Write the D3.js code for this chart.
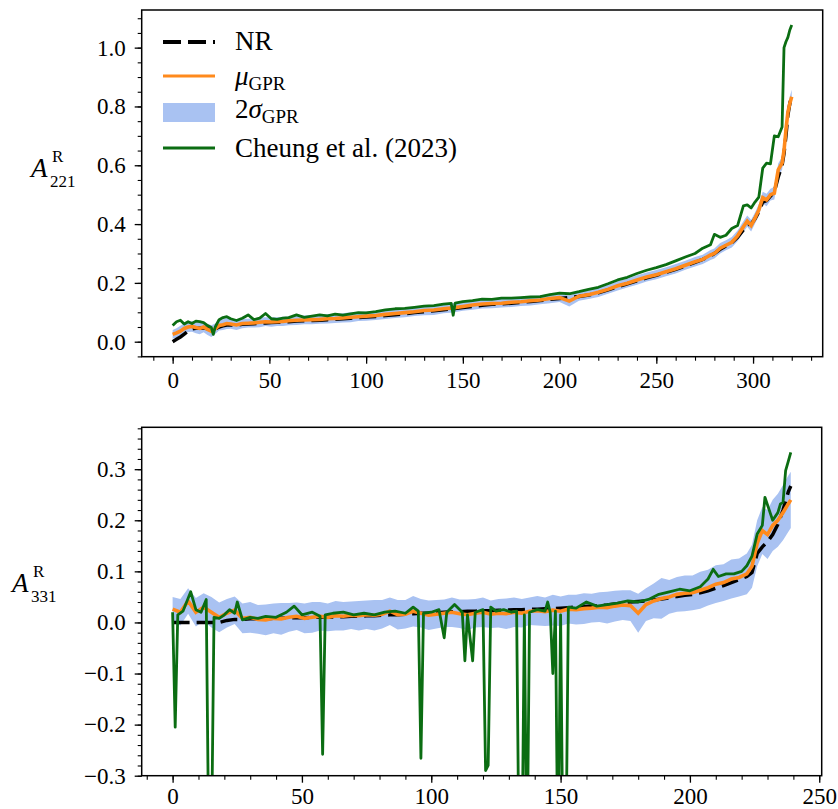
<!DOCTYPE html>
<html>
<head>
<meta charset="utf-8">
<script src="https://cdnjs.cloudflare.com/ajax/libs/d3/7.8.5/d3.min.js"></script>
<style>
body { margin: 0; background: #fff; }
svg { display: block; font-family: "Liberation Serif", "DejaVu Serif", serif; }
</style>
</head>
<body>
<script>
//data

//top panel (A_221): x values shared by NR, mu and 2sigma
var topX = [0,2,4,6,8,10,12,14,16,18,20,22,24,26,28,30,
  33,36,39,42,45,48,51,54,57,60,
  64,68,72,76,80,84,88,92,96,100,
  105,110,115,120,125,130,135,140,145,150,155,160,165,170,175,180,185,190,195,200,205,210,215,220,225,230,235,240,245,250,255,260,265,270,
  274,278,
  280,283,286,289,292,295,
  297,299,301,303,305,307,309,311,313,315,
  316,317,318,319,320];
var topNR = [0.000,0.008,0.016,0.026,0.036,0.044,0.046,0.046,0.047,0.044,0.040,0.043,0.050,0.054,0.057,0.057,
  0.057,0.059,0.060,0.061,0.063,0.064,0.065,0.066,0.067,0.068,
  0.070,0.071,0.072,0.073,0.075,0.076,0.078,0.080,0.082,0.084,
  0.086,0.089,0.092,0.095,0.099,0.102,0.105,0.109,0.112,0.116,0.120,0.124,0.127,0.129,0.131,0.134,0.137,0.140,0.144,0.147,0.150,0.154,0.159,0.166,0.176,0.187,0.197,0.207,0.217,0.226,0.236,0.246,0.258,0.270,
  0.280,0.292,
  0.300,0.314,0.326,0.337,0.355,0.380,
  0.398,0.400,0.418,0.442,0.475,0.480,0.495,0.510,0.560,0.600,
  0.640,0.700,0.770,0.810,0.840];
var topMu = [0.025,0.030,0.036,0.045,0.050,0.052,0.048,0.045,0.050,0.042,0.036,0.044,0.055,0.058,0.062,0.060,
  0.057,0.062,0.063,0.064,0.066,0.068,0.067,0.068,0.069,0.071,
  0.073,0.074,0.075,0.076,0.078,0.079,0.081,0.083,0.085,0.087,
  0.089,0.093,0.096,0.099,0.102,0.106,0.108,0.112,0.115,0.120,0.125,0.128,0.130,0.131,0.134,0.136,0.139,0.142,0.147,0.150,0.138,0.155,0.160,0.168,0.178,0.190,0.199,0.210,0.220,0.228,0.238,0.248,0.260,0.272,
  0.280,0.295,
  0.300,0.318,0.328,0.338,0.360,0.391,
  0.410,0.395,0.420,0.448,0.490,0.482,0.500,0.505,0.584,0.607,
  0.650,0.720,0.780,0.810,0.833];
var topSig = [0.015,0.016,0.018,0.018,0.017,0.018,0.019,0.020,0.018,0.019,0.020,0.018,0.017,0.018,0.019,0.016,
  0.017,0.016,0.015,0.016,0.017,0.015,0.016,0.015,0.016,0.015,
  0.016,0.015,0.016,0.015,0.016,0.015,0.016,0.017,0.015,0.016,
  0.015,0.016,0.015,0.016,0.015,0.016,0.017,0.015,0.016,0.015,0.016,0.015,0.016,0.015,0.016,0.015,0.016,0.015,0.016,0.015,0.018,0.016,0.015,0.016,0.015,0.016,0.015,0.016,0.015,0.016,0.015,0.016,0.015,0.016,
  0.016,0.017,
  0.017,0.018,0.017,0.018,0.018,0.019,
  0.019,0.020,0.019,0.020,0.020,0.021,0.020,0.021,0.022,0.022,
  0.022,0.023,0.023,0.024,0.024];
//Cheung et al. (2023), top panel
var cheungTopX = [0,2,4,6,8,10,12,14,16,18,20,21,22,24,26,28,30,33,36,39,42,45,48,51,54,57,60,64,68,72,76,80,84,88,92,96,100,
  105,110,115,120,125,130,135,140,144,145,146,150,155,160,165,170,175,180,185,190,195,200,205,210,215,220,225,230,235,240,245,250,255,260,265,270,
  274,278,280,283,286,289,292,295,297,299,301,303,305,307,309,311,313,315,316,317,318,319,320];
var cheungTopY = [0.055,0.068,0.073,0.060,0.068,0.062,0.070,0.068,0.065,0.055,0.048,0.025,0.050,0.075,0.082,0.085,0.078,0.072,0.080,0.091,0.075,0.080,0.096,0.078,0.076,0.080,0.082,0.091,0.083,0.087,0.091,0.088,0.094,0.090,0.095,0.099,0.098,
  0.102,0.108,0.112,0.113,0.117,0.121,0.123,0.128,0.130,0.090,0.131,0.136,0.140,0.145,0.144,0.148,0.148,0.150,0.152,0.153,0.160,0.165,0.163,0.170,0.178,0.185,0.197,0.210,0.219,0.232,0.243,0.252,0.262,0.275,0.288,0.300,
  0.318,0.330,0.365,0.355,0.362,0.385,0.395,0.462,0.465,0.455,0.475,0.492,0.590,0.607,0.605,0.700,0.697,0.730,1.000,1.020,1.035,1.060,1.077];

//bottom panel (A_331)
var botX = [0,3,6,9,12,15,18,
  21,24,27,30,33,36,39,42,45,48,51,54,57,60,
  63,66,69,72,75,78,81,84,87,90,93,96,99,
  102,105,108,111,114,117,120,123,126,129,132,135,138,141,144,147,150,
  153,156,159,162,165,168,171,174,177,180,183,186,189,192,195,198,201,204,207,210,213,216,219,222,
  224,226,228,230,232,234,236,238,239];
var botNR = [0,0,0,0,0,0,0,
  0.004,0.006,0.006,0.007,0.007,0.007,0.008,0.008,0.009,0.009,0.009,0.010,0.010,0.010,
  0.011,0.011,0.012,0.012,0.013,0.013,0.014,0.015,0.015,0.016,0.017,0.018,0.018,
  0.019,0.020,0.021,0.021,0.022,0.022,0.023,0.023,0.024,0.024,0.025,0.025,0.026,0.026,0.027,0.027,0.028,
  0.029,0.030,0.031,0.032,0.033,0.034,0.036,0.038,0.040,0.041,0.042,0.044,0.046,0.048,0.051,0.053,0.055,0.058,0.062,0.067,0.072,0.078,0.084,0.090,
  0.098,0.135,0.148,0.158,0.172,0.192,0.220,0.255,0.267];
var botMu = [0.026,0.020,0.042,0.020,0.030,0.020,0.010,
  0.018,0.024,0.008,0.010,0.006,0.005,0.008,0.007,0.010,0.012,0.008,0.010,0.012,0.010,
  0.013,0.012,0.014,0.013,0.015,0.014,0.016,0.022,0.015,0.016,0.022,0.018,0.014,
  0.016,0.018,0.020,0.017,0.015,0.018,0.020,0.016,0.018,0.017,0.020,0.018,0.022,0.023,0.021,0.024,0.022,
  0.026,0.025,0.027,0.028,0.030,0.029,0.032,0.034,0.033,0.018,0.035,0.042,0.047,0.050,0.055,0.057,0.058,0.063,0.068,0.075,0.078,0.085,0.088,0.095,
  0.110,0.155,0.180,0.172,0.190,0.200,0.215,0.232,0.240];
var botSig = [0.024,0.026,0.025,0.028,0.027,0.030,0.029,
  0.028,0.027,0.029,0.030,0.028,0.030,0.029,0.031,0.028,0.027,0.029,0.030,0.028,0.027,
  0.029,0.028,0.027,0.029,0.028,0.030,0.028,0.027,0.029,0.028,0.030,0.028,0.029,
  0.028,0.027,0.029,0.028,0.030,0.028,0.029,0.027,0.028,0.030,0.029,0.028,0.027,0.029,0.028,0.030,0.029,
  0.028,0.029,0.030,0.028,0.029,0.031,0.030,0.029,0.030,0.038,0.032,0.034,0.040,0.033,0.034,0.035,0.034,0.036,0.035,0.037,0.036,0.038,0.037,0.040,
  0.042,0.045,0.046,0.048,0.050,0.052,0.054,0.055,0.055];
//Cheung et al. (2023), bottom panel (the deep spikes are clipped at -0.3)
var cheungBotX = [0,1,2,4,7,9,11,13,14,15,16,18,20,22,24,25,27,30,33,36,40,44,47,50,54,57,58,59,62,66,70,74,78,82,86,90,93,95,96,97,
  100,103,105,106,109,112,113,114,116,117,120,121,122,123,125,128,131,133,134,135,136,137,138,141,144,145,146,147,148,149,150,151,152,153,
  156,160,164,168,172,176,180,184,188,192,196,200,204,207,209,211,214,217,220,222,224,226,228,229,231,232,234,235,236,237,238,239];
var cheungBotY = [0.020,-0.205,0.015,0.022,0.060,0.025,0.020,0.045,-0.45,-0.45,0.010,0.008,0.015,0.025,0.018,0.040,0.005,0.010,0.008,0.012,0.010,0.020,0.032,0.015,0.020,0.012,-0.258,0.015,0.018,0.020,0.015,0.018,0.015,0.020,0.022,0.018,0.030,0.022,-0.266,0.018,
  0.020,0.025,-0.030,0.020,0.035,0.020,-0.075,0.015,-0.075,0.020,0.025,-0.290,-0.280,0.030,0.022,0.025,0.020,0.022,-0.5,-0.5,0.015,-0.5,0.020,0.025,0.022,0.040,0.020,-0.100,0.022,-0.5,0.015,-0.5,-0.5,0.030,
  0.028,0.040,0.032,0.035,0.038,0.042,0.040,0.045,0.055,0.060,0.065,0.062,0.070,0.085,0.104,0.090,0.095,0.095,0.100,0.111,0.130,0.173,0.190,0.245,0.215,0.200,0.215,0.232,0.235,0.297,0.315,0.333];

//tick labels
var topXTicks = [0,50,100,150,200,250,300];
var topYTicks = [0.0,0.2,0.4,0.6,0.8,1.0];
var botXTicks = [0,50,100,150,200,250];
var botYTicks = [-0.3,-0.2,-0.1,0.0,0.1,0.2,0.3];

//legend labels
var legendNR = "NR";
var legendCheung = "Cheung et al. (2023)";

//variables
var width = 838;
var height = 809;
var colNR = "#000000";
var colMu = "#ff8a1c";
var colBand = "#a9c2f2";
var colCheung = "#0b6d12";
var tickFont = 23;

//create canvas
var svg = d3.select("body").append("svg")
    .attr("width", width)
    .attr("height", height);

//draws one panel
function drawPanel(p) {
    var g = svg.append("g");

    var x = d3.scaleLinear().domain(p.xDomain).range([p.left, p.right]);
    var y = d3.scaleLinear().domain(p.yDomain).range([p.bottom, p.top]);

    //clip the curves to the axes box
    svg.append("clipPath").attr("id", p.id)
        .append("rect")
        .attr("x", p.left).attr("y", p.top)
        .attr("width", p.right - p.left).attr("height", p.bottom - p.top);

    var rows = p.xs.map(function (d, i) {
        return {x: d, nr: p.nr[i], mu: p.mu[i], s: p.sig[i]};
    });
    var cheung = p.cx.map(function (d, i) { return {x: d, y: p.cy[i]}; });

    var plot = g.append("g").attr("clip-path", "url(#" + p.id + ")");

    //2 sigma band
    var area = d3.area()
        .x(function (d) { return x(d.x); })
        .y0(function (d) { return y(d.mu - d.s); })
        .y1(function (d) { return y(d.mu + d.s); });
    plot.append("path").datum(rows)
        .attr("d", area)
        .attr("fill", colBand)
        .attr("stroke", "none");

    //NR
    var lineNR = d3.line()
        .x(function (d) { return x(d.x); })
        .y(function (d) { return y(d.nr); });
    plot.append("path").datum(rows)
        .attr("d", lineNR)
        .attr("fill", "none")
        .attr("stroke", colNR)
        .attr("stroke-width", 3.5)
        .attr("stroke-dasharray", "17,7");

    //GPR mean
    var lineMu = d3.line()
        .x(function (d) { return x(d.x); })
        .y(function (d) { return y(d.mu); });
    plot.append("path").datum(rows)
        .attr("d", lineMu)
        .attr("fill", "none")
        .attr("stroke", colMu)
        .attr("stroke-width", 3.6);

    //Cheung et al.
    var lineC = d3.line()
        .x(function (d) { return x(d.x); })
        .y(function (d) { return y(d.y); });
    plot.append("path").datum(cheung)
        .attr("d", lineC)
        .attr("fill", "none")
        .attr("stroke", colCheung)
        .attr("stroke-width", 2.8)
        .attr("stroke-linejoin", "round");

    //minor ticks
    g.append("g").attr("transform", "translate(0," + p.bottom + ")")
        .call(d3.axisBottom(x).tickValues(p.xMinor).tickSize(4).tickFormat(""))
        .call(function (a) { a.select(".domain").remove(); a.selectAll("line").attr("stroke-width", 1.1); });
    g.append("g").attr("transform", "translate(" + p.left + ",0)")
        .call(d3.axisLeft(y).tickValues(p.yMinor).tickSize(4).tickFormat(""))
        .call(function (a) { a.select(".domain").remove(); a.selectAll("line").attr("stroke-width", 1.1); });

    //major ticks
    g.append("g").attr("transform", "translate(0," + p.bottom + ")")
        .call(d3.axisBottom(x).tickValues(p.xTicks).tickSize(7).tickPadding(p.xPad).tickFormat(d3.format("d")))
        .call(function (a) {
            a.select(".domain").remove();
            a.selectAll("line").attr("stroke-width", 1.3);
            a.attr("font-size", tickFont).attr("font-family", "Liberation Serif, serif");
        });
    g.append("g").attr("transform", "translate(" + p.left + ",0)")
        .call(d3.axisLeft(y).tickValues(p.yTicks).tickSize(7).tickPadding(9).tickFormat(d3.format(".1f")))
        .call(function (a) {
            a.select(".domain").remove();
            a.selectAll("line").attr("stroke-width", 1.3);
            a.attr("font-size", tickFont).attr("font-family", "Liberation Serif, serif");
        });

    //frame
    g.append("rect")
        .attr("x", p.left).attr("y", p.top)
        .attr("width", p.right - p.left).attr("height", p.bottom - p.top)
        .attr("fill", "none")
        .attr("stroke", "#000")
        .attr("stroke-width", 1.5);

    //y label A^R_lmn
    var lab = g.append("g").attr("fill", "#000");
    lab.append("text").attr("x", p.labX).attr("y", p.labY)
        .attr("font-size", 27).attr("font-style", "italic").text("A");
    lab.append("text").attr("x", p.labX + 21).attr("y", p.labY - 15)
        .attr("font-size", 17).text("R");
    lab.append("text").attr("x", p.labX + 19).attr("y", p.labY + 10)
        .attr("font-size", 17).text(p.sub);

    return g;
}

drawPanel({
    id: "clipTop",
    left: 141.7, right: 822.7, top: 10, bottom: 356.7,
    xDomain: [-16, 336], yDomain: [-0.051, 1.128],
    xs: topX, nr: topNR, mu: topMu, sig: topSig,
    cx: cheungTopX, cy: cheungTopY,
    xTicks: topXTicks, yTicks: topYTicks, xPad: 8,
    xMinor: d3.range(-10, 340, 10), yMinor: d3.range(-0.05, 1.13, 0.05),
    labX: 31, labY: 177, sub: "221"
});

drawPanel({
    id: "clipBot",
    left: 141.7, right: 821.7, top: 427.3, bottom: 775.7,
    xDomain: [-11.95, 250.95], yDomain: [-0.3, 0.382],
    xs: botX, nr: botNR, mu: botMu, sig: botSig,
    cx: cheungBotX, cy: cheungBotY,
    xTicks: botXTicks, yTicks: botYTicks, xPad: 5,
    xMinor: d3.range(-10, 251, 10), yMinor: d3.range(-0.3, 0.385, 0.02),
    labX: 12, labY: 592, sub: "331"
});

//legend (top panel, upper left, no frame)
var leg = svg.append("g").attr("font-size", 27).attr("fill", "#000");
var hx0 = 163, hx1 = 215, tx = 235;

leg.append("line").attr("x1", hx0).attr("x2", hx1).attr("y1", 42).attr("y2", 42)
    .attr("stroke", colNR).attr("stroke-width", 4).attr("stroke-dasharray", "18,7");
leg.append("text").attr("x", tx).attr("y", 50).text(legendNR);

leg.append("line").attr("x1", hx0).attr("x2", hx1).attr("y1", 76).attr("y2", 76)
    .attr("stroke", colMu).attr("stroke-width", 3);
var tMu = leg.append("text").attr("x", tx).attr("y", 85);
tMu.append("tspan").attr("font-style", "italic").text("μ");
tMu.append("tspan").attr("font-size", 19).attr("dy", 5).text("GPR");

leg.append("rect").attr("x", hx0).attr("y", 103).attr("width", hx1 - hx0).attr("height", 19)
    .attr("fill", colBand);
var tSig = leg.append("text").attr("x", tx).attr("y", 118);
tSig.append("tspan").text("2");
tSig.append("tspan").attr("font-style", "italic").text("σ");
tSig.append("tspan").attr("font-size", 19).attr("dy", 5).text("GPR");

leg.append("line").attr("x1", hx0).attr("x2", hx1).attr("y1", 148).attr("y2", 148)
    .attr("stroke", colCheung).attr("stroke-width", 3);
leg.append("text").attr("x", tx).attr("y", 157).text(legendCheung);
</script>
</body>
</html>
